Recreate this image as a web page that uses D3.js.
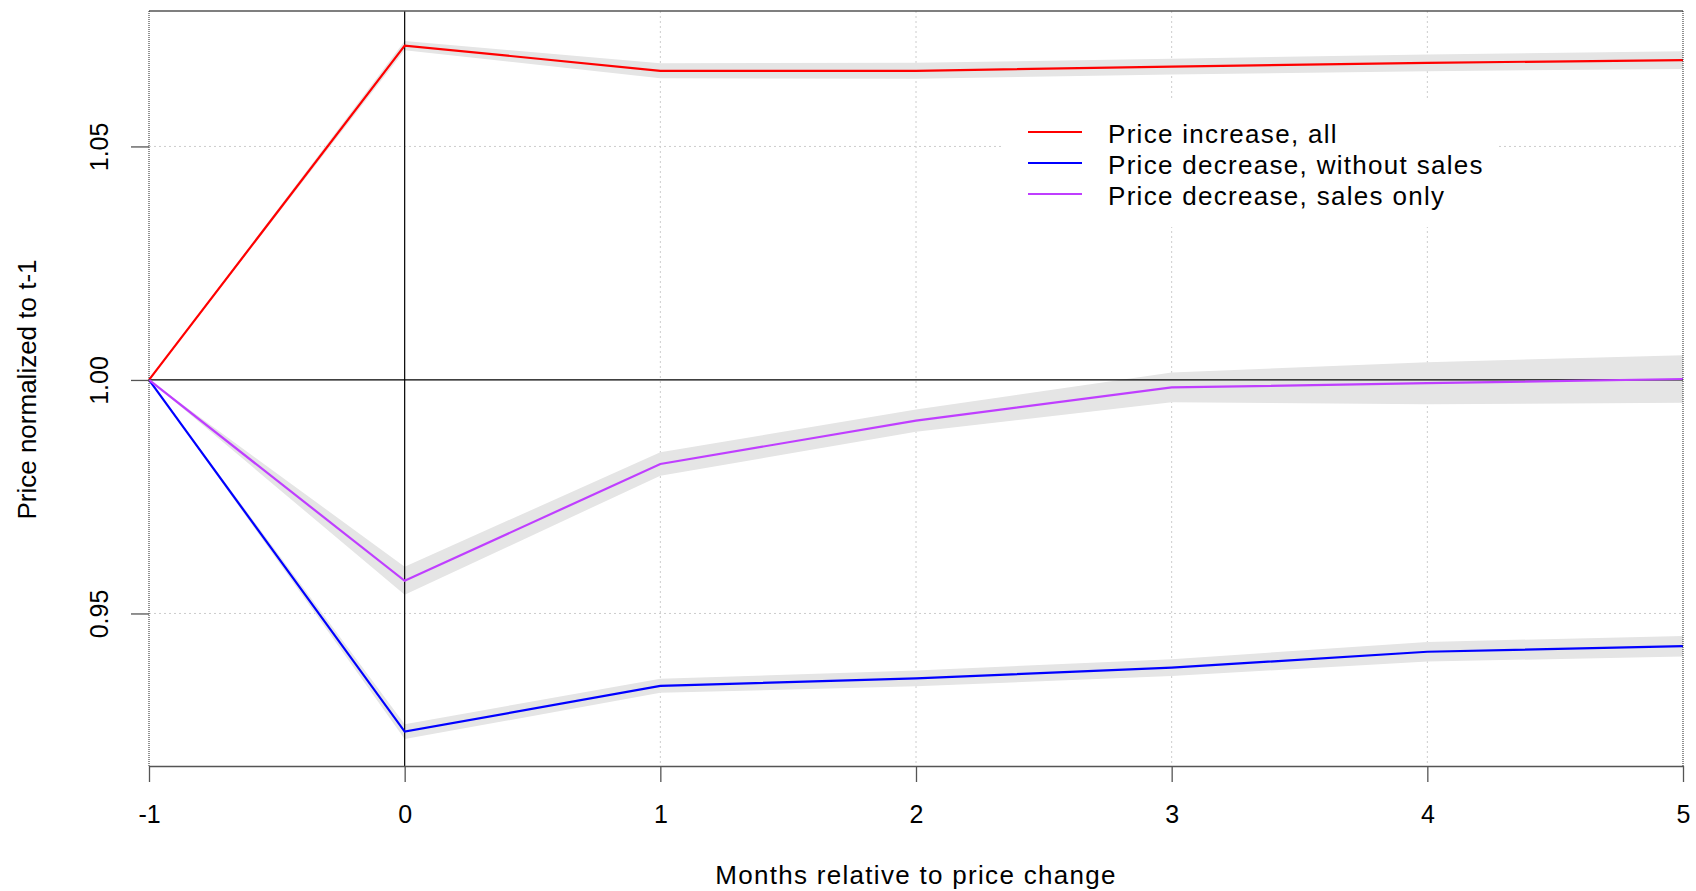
<!DOCTYPE html>
<html>
<head>
<meta charset="utf-8">
<script src="https://cdn.jsdelivr.net/npm/d3@7"></script>
<style>
  html, body { margin: 0; padding: 0; background: #fff; }
  svg { display: block; }
  text { font-family: "Liberation Sans", Arial, sans-serif; fill: #000; }
</style>
</head>
<body>
<svg id="chart" width="1696" height="891"></svg>
<script>
// Months relative to the price change (t = 0)
const months = [-1, 0, 1, 2, 3, 4, 5];

// Average price normalized to the month before the change, with CI half-widths
const priceIncreaseAll = [1.0000, 1.0716, 1.0662, 1.0662, 1.0671, 1.0679, 1.0685];
const ciIncreaseAll    = [0.0000, 0.0010, 0.0016, 0.0017, 0.0017, 0.0018, 0.0019];

const priceDecreaseNoSales = [1.0000, 0.9247, 0.9345, 0.9361, 0.9384, 0.9418, 0.9430];
const ciDecreaseNoSales    = [0.0000, 0.0016, 0.0015, 0.0017, 0.0018, 0.0021, 0.0022];

const priceDecreaseSales = [1.0000, 0.9570, 0.9820, 0.9913, 0.9984, 0.9993, 1.0002];
const ciDecreaseSales    = [0.0000, 0.0030, 0.0025, 0.0024, 0.0032, 0.0045, 0.0051];

const seriesLabels = ["Price increase, all", "Price decrease, without sales", "Price decrease, sales only"];
const seriesColors = ["#FF0000", "#0000FF", "#BF3EFF"];

const xTicks = [-1, 0, 1, 2, 3, 4, 5];
const xTickLabels = ["-1", "0", "1", "2", "3", "4", "5"];
const yTicks = [0.95, 1.00, 1.05];
const yTickLabels = ["0.95", "1.00", "1.05"];
const gridX = [1, 2, 3, 4];
const gridY = [0.95, 1.05];

const series = [
  { label: seriesLabels[0], color: seriesColors[0], values: priceIncreaseAll, ci: ciIncreaseAll },
  { label: seriesLabels[1], color: seriesColors[1], values: priceDecreaseNoSales, ci: ciDecreaseNoSales },
  { label: seriesLabels[2], color: seriesColors[2], values: priceDecreaseSales, ci: ciDecreaseSales }
];

const svg = d3.select("#chart");
const margin = { left: 149, right: 13, top: 11, bottom: 125 };
const W = 1696, H = 891;
const x0 = margin.left, x1 = W - margin.right;
const y0 = margin.top, y1 = H - margin.bottom;

const x = d3.scaleLinear().domain([-1, 5]).range([x0, x1]);
const y = d3.scaleLinear().domain([0.91734, 1.0790]).range([y1, y0]);

// dotted grid
const grid = svg.append("g");
grid.selectAll("line.gx").data(gridX).join("line")
  .attr("x1", d => x(d)).attr("x2", d => x(d))
  .attr("y1", y0).attr("y2", y1)
  .attr("stroke", "#cccccc").attr("stroke-width", 1).attr("stroke-dasharray", "2,3");
grid.selectAll("line.gy").data(gridY).join("line")
  .attr("x1", x0).attr("x2", x1)
  .attr("y1", d => y(d)).attr("y2", d => y(d))
  .attr("stroke", "#cccccc").attr("stroke-width", 1).attr("stroke-dasharray", "2,3");

// confidence bands
const area = d3.area()
  .x((d, i) => x(months[i]))
  .y0(d => y(d.v - d.c))
  .y1(d => y(d.v + d.c));
svg.append("g").selectAll("path").data(series).join("path")
  .attr("d", s => area(s.values.map((v, i) => ({ v, c: s.ci[i] }))))
  .attr("fill", "#e5e5e5");

// reference lines at t = 0 and price = 1
svg.append("line")
  .attr("x1", x(0)).attr("x2", x(0)).attr("y1", y0).attr("y2", y1)
  .attr("stroke", "#000").attr("stroke-width", 1.2);
svg.append("line")
  .attr("x1", x0).attr("x2", x1).attr("y1", y(1)).attr("y2", y(1))
  .attr("stroke", "#000").attr("stroke-width", 1.2);

// series lines
const line = d3.line().x((d, i) => x(months[i])).y(d => y(d));
svg.append("g").selectAll("path").data(series).join("path")
  .attr("d", s => line(s.values))
  .attr("fill", "none")
  .attr("stroke", s => s.color)
  .attr("stroke-width", 2.2);

// frame: solid top and bottom, dotted sides
svg.append("line").attr("x1", x0).attr("x2", x1).attr("y1", y0).attr("y2", y0)
  .attr("stroke", "#555").attr("stroke-width", 1.3);
[x0, x1].forEach(px => {
  svg.append("line").attr("x1", px).attr("x2", px).attr("y1", y0).attr("y2", y1)
    .attr("stroke", "#222").attr("stroke-width", 1).attr("stroke-dasharray", "1,1");
});

// x axis
const xAxis = svg.append("g").attr("transform", `translate(0,${y1})`)
  .call(d3.axisBottom(x).tickValues(xTicks).tickFormat((d, i) => xTickLabels[i]).tickSize(16).tickSizeOuter(0));
xAxis.select(".domain").attr("stroke", "#555").attr("stroke-width", 1.3);
xAxis.selectAll(".tick line").attr("stroke", "#555").attr("stroke-width", 1.3);
xAxis.selectAll(".tick text")
  .attr("y", 57).attr("dy", 0)
  .style("font-size", "25px").style("font-family", "'Liberation Sans', Arial, sans-serif").attr("fill", "#000");

// y axis (no domain line; rotated labels)
const yAxis = svg.append("g").attr("transform", `translate(${x0},0)`)
  .call(d3.axisLeft(y).tickValues(yTicks).tickFormat((d, i) => yTickLabels[i]).tickSize(18).tickSizeOuter(0));
yAxis.select(".domain").remove();
yAxis.selectAll(".tick line").attr("stroke", "#555").attr("stroke-width", 1.3);
yAxis.selectAll(".tick text")
  .attr("transform", "rotate(-90)")
  .attr("x", 0).attr("y", -41).attr("dy", 0)
  .attr("text-anchor", "middle")
  .style("font-size", "25px").style("font-family", "'Liberation Sans', Arial, sans-serif").attr("fill", "#000");

// axis titles
svg.append("text")
  .attr("x", (x0 + x1) / 2).attr("y", 884)
  .attr("text-anchor", "middle")
  .style("font-size", "26px").style("letter-spacing", "1.3px")
  .text("Months relative to price change");
svg.append("text")
  .attr("transform", `translate(36,${(262 + 517) / 2}) rotate(-90)`)
  .attr("text-anchor", "middle")
  .style("font-size", "26px")
  .text("Price normalized to t-1");

// legend
const legend = svg.append("g");
legend.append("rect").attr("x", 1003).attr("y", 100).attr("width", 495).attr("height", 127).attr("fill", "#fff");
const rows = legend.selectAll("g.row").data(series).join("g")
  .attr("transform", (d, i) => `translate(0,${132 + i * 31})`);
rows.append("line").attr("x1", 1028).attr("x2", 1082).attr("y1", 0).attr("y2", 0)
  .attr("stroke", d => d.color).attr("stroke-width", 2.2);
rows.append("text").attr("x", 1108).attr("y", 11)
  .style("font-size", "26px").style("letter-spacing", "1.3px")
  .text(d => d.label);
</script>
</body>
</html>
